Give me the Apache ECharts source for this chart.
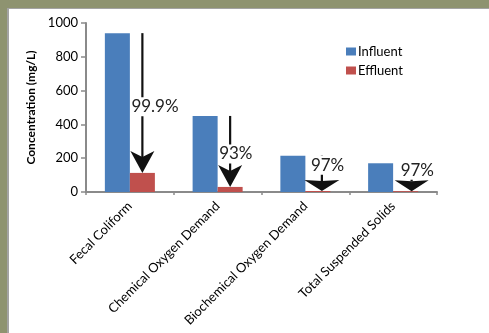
<!DOCTYPE html>
<html>
<head>
<meta charset="utf-8">
<script src="https://cdn.jsdelivr.net/npm/echarts@6/dist/echarts.min.js"></script>
<style>
  html, body { margin: 0; padding: 0; background: #8e9370; }
  .panel {
    position: absolute; left: 7px; top: 8px; width: 482px; height: 325px;
    background: #fff; border-left: 2px solid #a3a3a3; border-top: 1px solid #a3a3a3;
  }
  #chart { position: absolute; left: 0; top: 0; width: 489px; height: 333px; }
</style>
</head>
<body>
<div class="panel"></div>
<div id="chart"></div>
<script>
// data
const categories = ['Fecal Coliform', 'Chemical Oxygen Demand', 'Biochemical Oxygen Demand', 'Total Suspended Solids'];
const influent = [940, 450, 215, 170];
const effluent = [113, 30, 6, 5];
const reduction = ['99.9%', '93%', '97%', '97%'];
const labelAt = [505, 225, 158, 128]; // where the % text sits on the y scale
const yTicks = [0, 200, 400, 600, 800, 1000];

// arrow head look (two long arrows, two wide short ones), dx = small nudge in px
const heads = [
  { w: 24, h: 22, notch: 0.72, dx: 0 },
  { w: 24, h: 22, notch: 0.72, dx: 0 },
  { w: 35, h: 11, notch: 0.9, dx: 4 },
  { w: 34, h: 11, notch: 0.9, dx: 6 }
];

const FONT = 'Lato, "Open Sans", sans-serif';
const chart = echarts.init(document.getElementById('chart'));

const arrowData = categories.map((c, i) => [i, influent[i], effluent[i], labelAt[i]]);

chart.setOption({
  animation: false,
  textStyle: { fontFamily: FONT },
  grid: { left: 86, right: 52, top: 23, bottom: 141 },
  legend: {
    orient: 'vertical',
    left: 341, top: 40,
    itemWidth: 10, itemHeight: 8, itemGap: 6,
    icon: 'rect',
    data: ['Influent', 'Effluent'],
    textStyle: { fontSize: 13, color: '#000', fontFamily: FONT, padding: [0, 0, 0, -3] }
  },
  xAxis: {
    type: 'category',
    data: categories,
    axisLine: { lineStyle: { color: '#8a8a8a', width: 2 } },
    axisTick: { show: true, length: 3, lineStyle: { color: '#8a8a8a', width: 1.5 } },
    axisLabel: { rotate: 45, margin: 12, fontSize: 13, color: '#000', interval: 0 }
  },
  yAxis: {
    type: 'value',
    min: yTicks[0], max: yTicks[yTicks.length - 1], interval: 200,
    name: 'Concentration (mg/L)',
    nameLocation: 'middle', nameGap: 42,
    nameTextStyle: { fontSize: 12, fontWeight: 'bold', color: '#000' },
    axisLine: { show: true, lineStyle: { color: '#8a8a8a', width: 2 } },
    axisTick: { show: true, length: 5, lineStyle: { color: '#8a8a8a', width: 1.5 } },
    axisLabel: { fontSize: 13, color: '#000', margin: 8, formatter: v => String(v) },
    splitLine: { show: false }
  },
  series: [
    {
      name: 'Influent', type: 'bar', data: influent,
      barGap: 0, barCategoryGap: '43%',
      itemStyle: { color: '#4a7ebb' }
    },
    {
      name: 'Effluent', type: 'bar', data: effluent,
      barGap: 0, barCategoryGap: '43%',
      itemStyle: { color: '#c0504d' }
    },
    {
      type: 'custom',
      z: 10,
      data: arrowData,
      renderItem: function (params, api) {
        const i = api.value(0);
        const hd = heads[i];
        const band = api.size([1, 0])[0];
        const x = api.coord([i, 0])[0] + band * 0.1425 + hd.dx;
        const top = api.coord([i, api.value(1)])[1];
        const tip = api.coord([i, api.value(2)])[1];
        const ly = api.coord([i, api.value(3)])[1];
        return {
          type: 'group',
          children: [
            {
              type: 'line',
              shape: { x1: x, y1: top, x2: x, y2: tip - hd.h * hd.notch },
              style: { stroke: '#111', lineWidth: 2.2 }
            },
            {
              type: 'polygon',
              shape: { points: [[x, tip], [x - hd.w / 2, tip - hd.h], [x, tip - hd.h * hd.notch], [x + hd.w / 2, tip - hd.h]] },
              style: { fill: '#111' }
            },
            {
              type: 'text',
              x: x - 12, y: ly,
              style: {
                text: reduction[i], fill: '#222', font: '17px ' + FONT,
                align: 'left', verticalAlign: 'middle',
                backgroundColor: '#fff', padding: [1, 1]
              }
            }
          ]
        };
      }
    }
  ]
});
</script>
</body>
</html>
